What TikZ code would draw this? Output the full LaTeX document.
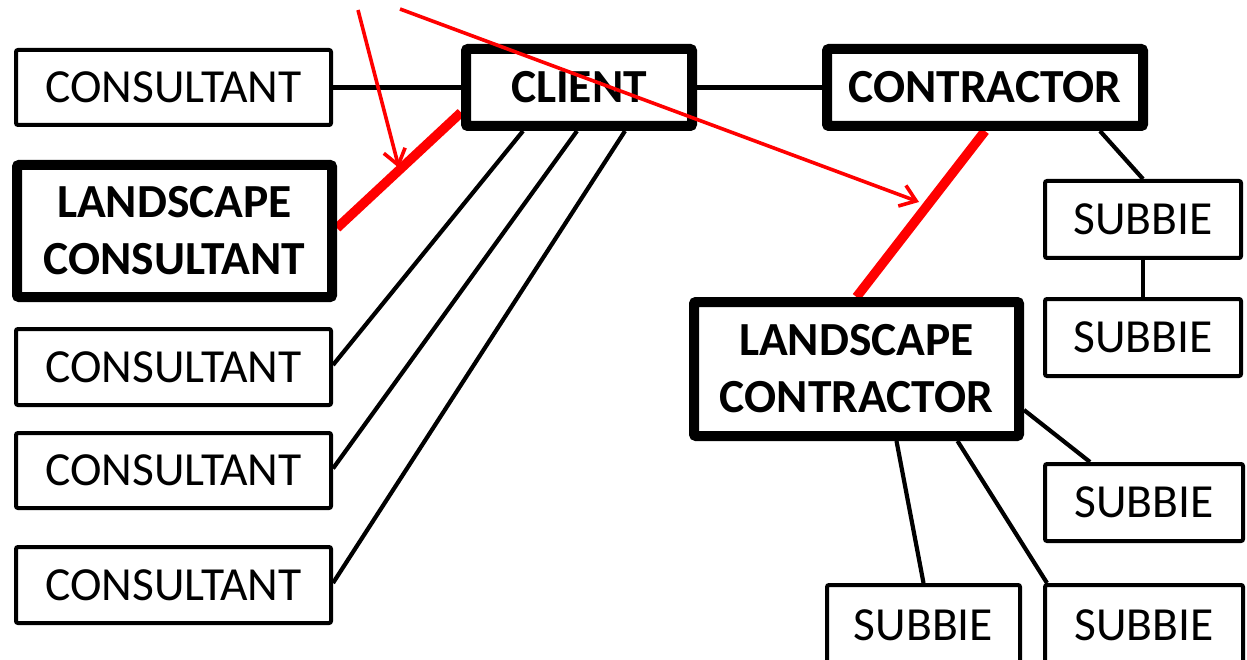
\documentclass[tikz,border=0pt]{standalone}
\usepackage{fontspec}
\setmainfont{Carlito}
\usetikzlibrary{arrows.meta,backgrounds}
\tikzset{
  thinbox/.style={draw, line width=4pt, fill=white, rounded corners=2pt, inner sep=0pt, align=center,
    font=\fontsize{47.5}{57}\selectfont},
  thickbox/.style={thinbox, line width=10pt, font=\bfseries\fontsize{47.5}{57}\selectfont},
  link/.style={line width=4.2pt},
  redlink/.style={red, line width=9.5pt},
  pointer/.style={red, line width=3.6pt, -{Straight Barb[length=15pt,width=22pt]}}
}
\begin{document}
\begin{tikzpicture}[x=1pt,y=-1pt]
\useasboundingbox (0,0) rectangle (1247,660);
% nodes
\node[thinbox, minimum width=315pt, minimum height=75pt] (cons1) at (173.5,87.5) {CONSULTANT};
\node[thickbox, minimum width=315pt, minimum height=132pt] (lcons) at (174.5,231) {LANDSCAPE\\CONSULTANT};
\node[thinbox, minimum width=315pt, minimum height=76pt] (cons3) at (173.5,367) {CONSULTANT};
\node[thinbox, minimum width=315pt, minimum height=75pt] (cons4) at (173.5,470.5) {CONSULTANT};
\node[thinbox, minimum width=315pt, minimum height=76pt] (cons5) at (173.5,585) {CONSULTANT};
\node[thickbox, minimum width=226pt, minimum height=77pt] (client) at (579,87.5) {CLIENT};
\node[thickbox, minimum width=316pt, minimum height=77pt] (contr) at (985,87.5) {CONTRACTOR};
\node[thinbox, minimum width=196pt, minimum height=77pt] (s1) at (1143,219.5) {SUBBIE};
\node[thinbox, minimum width=196pt, minimum height=77pt] (s2) at (1143,337.5) {SUBBIE};
\node[thickbox, minimum width=325pt, minimum height=134pt] (lc) at (856.5,369) {LANDSCAPE\\CONTRACTOR};
\node[thinbox, minimum width=198pt, minimum height=77pt] (s3) at (1144,502.5) {SUBBIE};
\node[thinbox, minimum width=193pt, minimum height=80pt] (s4) at (923.5,625) {SUBBIE};
\node[thinbox, minimum width=198pt, minimum height=80pt] (s5) at (1144,625) {SUBBIE};
% connectors
\begin{scope}[on background layer]
\draw[link] (cons1.east) -- (client.west);
\draw[link] (client.east) -- (contr.west);
\draw[redlink] ([yshift=3pt]lcons.east) -- ([yshift=-25pt]client.west);
\draw[link] ([xshift=-56pt]client.south) -- ([yshift=2pt]cons3.east);
\draw[link] ([xshift=-2pt]client.south) -- ([yshift=2pt]cons4.east);
\draw[link] ([xshift=46pt]client.south) -- ([yshift=2pt]cons5.east);
\draw[redlink] (contr.south) -- (lc.north);
\draw[link] ([xshift=115pt]contr.south) -- (s1.north);
\draw[link] (s1.south) -- (s2.north);
\draw[link] ([yshift=-41pt]lc.east) -- ([xshift=-54pt]s3.north);
\draw[link] ([xshift=40pt]lc.south) -- (s4.north);
\draw[link] ([xshift=101pt]lc.south) -- ([xshift=4pt]s5.north west);
\end{scope}
% pointers
\coordinate (p1) at (358,10);
\coordinate (t1) at (399,168);
\coordinate (p2) at (400,9);
\coordinate (t2) at (919,202);
\draw[pointer] (p1) -- (t1);
\draw[pointer] (p2) -- (t2);
\end{tikzpicture}
\end{document}
